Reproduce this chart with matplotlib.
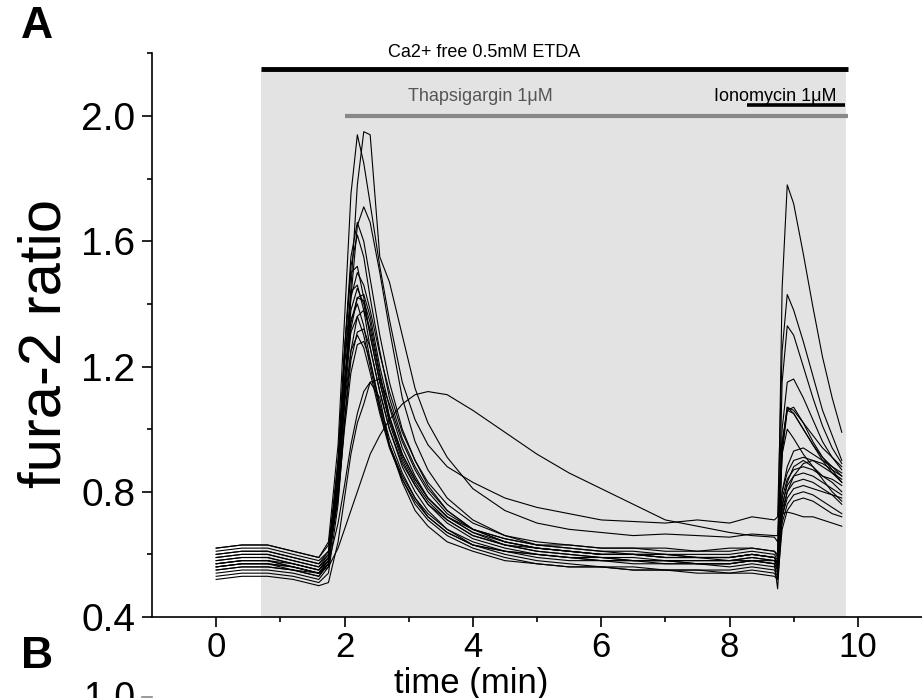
import matplotlib
matplotlib.use("Agg")
import matplotlib.pyplot as plt
from matplotlib.ticker import FixedLocator

plt.rcParams['font.family'] = ['Liberation Sans', 'DejaVu Sans']

# time axis (min)
time_min = [0, 0.4, 0.8, 1.2, 1.6, 1.75, 1.9, 2.0, 2.1, 2.2, 2.3, 2.4, 2.55, 2.7,
            2.9, 3.1, 3.3, 3.6, 4.0, 4.5, 5.0, 5.5, 6.0, 6.5, 7.0, 7.5, 8.0, 8.35,
            8.7, 8.75, 8.82, 8.9, 9.0, 9.15, 9.3, 9.45, 9.6, 9.75]

# fura-2 ratio, one list per cell
cell_a = [0.61, 0.62, 0.62, 0.60, 0.58, 0.61, 0.80, 1.10, 1.45, 1.78, 1.95, 1.94, 1.55, 1.47,
          1.30, 1.13, 1.02, 0.91, 0.81, 0.74, 0.70, 0.68, 0.67, 0.66, 0.665, 0.66, 0.655, 0.665,
          0.66, 0.66, 0.95, 1.07, 1.06, 1.02, 0.98, 0.94, 0.91, 0.88]
cell_b = [0.62, 0.63, 0.63, 0.61, 0.59, 0.64, 0.95, 1.35, 1.75, 1.94, 1.85, 1.72, 1.52, 1.35,
          1.15, 1.03, 0.95, 0.88, 0.83, 0.78, 0.75, 0.73, 0.71, 0.705, 0.70, 0.71, 0.70, 0.72,
          0.71, 0.72, 1.25, 1.43, 1.38, 1.28, 1.17, 1.06, 0.98, 0.90]
cell_c = [0.57, 0.58, 0.58, 0.57, 0.55, 0.59, 0.80, 1.10, 1.42, 1.65, 1.71, 1.66, 1.50, 1.32,
          1.10, 0.96, 0.87, 0.78, 0.71, 0.66, 0.63, 0.62, 0.61, 0.60, 0.60, 0.59, 0.59, 0.60,
          0.59, 0.57, 1.45, 1.78, 1.72, 1.56, 1.39, 1.23, 1.10, 0.99]
cell_d = [0.56, 0.57, 0.57, 0.56, 0.54, 0.58, 0.88, 1.25, 1.55, 1.66, 1.60, 1.48, 1.30, 1.15,
          1.00, 0.90, 0.82, 0.74, 0.68, 0.64, 0.62, 0.61, 0.60, 0.60, 0.59, 0.59, 0.58, 0.59,
          0.58, 0.56, 1.15, 1.33, 1.30, 1.20, 1.10, 1.01, 0.94, 0.89]
cell_e = [0.59, 0.60, 0.60, 0.58, 0.56, 0.60, 0.90, 1.25, 1.52, 1.62, 1.55, 1.42, 1.25, 1.10,
          0.97, 0.88, 0.81, 0.74, 0.68, 0.65, 0.63, 0.62, 0.61, 0.61, 0.60, 0.60, 0.60, 0.61,
          0.60, 0.58, 1.00, 1.15, 1.16, 1.10, 1.03, 0.96, 0.91, 0.87]
cell_f = [0.55, 0.56, 0.56, 0.55, 0.53, 0.57, 0.88, 1.25, 1.50, 1.52, 1.42, 1.30, 1.15, 1.02,
          0.90, 0.82, 0.76, 0.70, 0.65, 0.62, 0.60, 0.59, 0.58, 0.58, 0.57, 0.57, 0.57, 0.58,
          0.57, 0.55, 0.95, 1.07, 1.05, 1.00, 0.95, 0.91, 0.88, 0.85]
cell_g = [0.60, 0.61, 0.61, 0.59, 0.57, 0.61, 0.90, 1.22, 1.44, 1.46, 1.38, 1.26, 1.12, 1.00,
          0.89, 0.82, 0.76, 0.71, 0.66, 0.63, 0.62, 0.61, 0.60, 0.60, 0.60, 0.59, 0.59, 0.60,
          0.59, 0.57, 0.92, 1.06, 1.07, 1.02, 0.96, 0.91, 0.87, 0.83]
cell_h = [0.58, 0.59, 0.59, 0.57, 0.55, 0.59, 0.85, 1.15, 1.38, 1.45, 1.40, 1.30, 1.15, 1.03,
          0.91, 0.83, 0.77, 0.71, 0.66, 0.63, 0.61, 0.60, 0.59, 0.59, 0.58, 0.58, 0.58, 0.59,
          0.58, 0.56, 0.92, 1.00, 0.97, 0.92, 0.88, 0.84, 0.80, 0.77]
cell_i = [0.56, 0.57, 0.57, 0.56, 0.54, 0.57, 0.80, 1.08, 1.32, 1.42, 1.43, 1.36, 1.20, 1.07,
          0.94, 0.85, 0.78, 0.72, 0.67, 0.63, 0.61, 0.60, 0.59, 0.58, 0.58, 0.57, 0.57, 0.58,
          0.57, 0.55, 0.80, 0.88, 0.93, 0.94, 0.92, 0.90, 0.88, 0.86]
cell_j = [0.62, 0.63, 0.63, 0.61, 0.59, 0.63, 0.85, 1.12, 1.34, 1.42, 1.41, 1.34, 1.18, 1.04,
          0.92, 0.84, 0.78, 0.72, 0.68, 0.65, 0.63, 0.63, 0.62, 0.62, 0.62, 0.61, 0.62, 0.62,
          0.61, 0.60, 0.80, 0.86, 0.90, 0.91, 0.90, 0.88, 0.86, 0.84]
cell_k = [0.54, 0.55, 0.55, 0.54, 0.52, 0.56, 0.82, 1.15, 1.35, 1.40, 1.33, 1.22, 1.07, 0.95,
          0.84, 0.76, 0.71, 0.66, 0.62, 0.59, 0.57, 0.56, 0.56, 0.55, 0.55, 0.55, 0.54, 0.55,
          0.54, 0.52, 0.75, 0.83, 0.88, 0.90, 0.88, 0.85, 0.83, 0.80]
cell_l = [0.58, 0.59, 0.59, 0.57, 0.55, 0.58, 0.78, 1.03, 1.25, 1.36, 1.38, 1.32, 1.17, 1.04,
          0.92, 0.84, 0.78, 0.72, 0.67, 0.64, 0.62, 0.61, 0.60, 0.60, 0.59, 0.59, 0.59, 0.60,
          0.59, 0.57, 0.78, 0.84, 0.87, 0.88, 0.87, 0.85, 0.84, 0.82]
cell_m = [0.57, 0.58, 0.58, 0.56, 0.54, 0.58, 0.84, 1.15, 1.31, 1.36, 1.30, 1.20, 1.06, 0.95,
          0.85, 0.78, 0.72, 0.67, 0.63, 0.61, 0.59, 0.58, 0.58, 0.57, 0.57, 0.57, 0.56, 0.57,
          0.56, 0.54, 0.76, 0.82, 0.85, 0.86, 0.85, 0.83, 0.81, 0.79]
cell_n = [0.53, 0.54, 0.54, 0.53, 0.51, 0.54, 0.76, 1.02, 1.22, 1.31, 1.32, 1.26, 1.12, 1.00,
          0.88, 0.80, 0.74, 0.68, 0.63, 0.60, 0.58, 0.57, 0.56, 0.56, 0.55, 0.55, 0.55, 0.56,
          0.55, 0.53, 0.74, 0.80, 0.83, 0.84, 0.83, 0.81, 0.79, 0.76]
cell_o = [0.59, 0.60, 0.60, 0.58, 0.56, 0.59, 0.78, 1.00, 1.18, 1.27, 1.28, 1.22, 1.08, 0.97,
          0.86, 0.78, 0.73, 0.68, 0.64, 0.61, 0.60, 0.59, 0.58, 0.58, 0.58, 0.57, 0.57, 0.58,
          0.57, 0.49, 0.72, 0.78, 0.81, 0.82, 0.81, 0.80, 0.79, 0.78]
cell_p = [0.57, 0.58, 0.58, 0.56, 0.54, 0.57, 0.70, 0.82, 0.95, 1.05, 1.12, 1.15, 1.16, 1.08,
          0.96, 0.87, 0.80, 0.73, 0.68, 0.64, 0.62, 0.61, 0.60, 0.60, 0.59, 0.59, 0.59, 0.60,
          0.59, 0.57, 0.70, 0.76, 0.79, 0.80, 0.79, 0.77, 0.75, 0.73]
cell_q = [0.52, 0.53, 0.53, 0.52, 0.50, 0.51, 0.64, 0.78, 0.92, 1.02, 1.08, 1.15, 1.10, 0.95,
          0.83, 0.74, 0.69, 0.64, 0.61, 0.58, 0.57, 0.56, 0.56, 0.55, 0.55, 0.54, 0.54, 0.54,
          0.53, 0.52, 0.68, 0.74, 0.77, 0.78, 0.77, 0.75, 0.73, 0.72]
cell_r = [0.55, 0.56, 0.56, 0.55, 0.54, 0.56, 0.62, 0.68, 0.74, 0.80, 0.86, 0.92, 0.98, 1.03,
          1.08, 1.11, 1.12, 1.11, 1.06, 0.99, 0.92, 0.86, 0.81, 0.76, 0.71, 0.69, 0.67, 0.66,
          0.655, 0.64, 0.73, 0.735, 0.73, 0.72, 0.72, 0.71, 0.70, 0.69]
cell_s = [0.60, 0.61, 0.61, 0.59, 0.57, 0.60, 0.82, 1.08, 1.25, 1.30, 1.26, 1.18, 1.05, 0.94,
          0.84, 0.77, 0.72, 0.67, 0.63, 0.61, 0.60, 0.59, 0.59, 0.58, 0.58, 0.58, 0.58, 0.58,
          0.58, 0.56, 0.72, 0.80, 0.85, 0.89, 0.90, 0.89, 0.87, 0.85]
cell_t = [0.56, 0.57, 0.57, 0.55, 0.53, 0.57, 0.86, 1.20, 1.42, 1.50, 1.46, 1.38, 1.24, 1.12,
          0.99, 0.90, 0.83, 0.76, 0.70, 0.66, 0.64, 0.63, 0.62, 0.62, 0.61, 0.61, 0.61, 0.62,
          0.61, 0.59, 0.95, 1.06, 1.05, 1.00, 0.95, 0.90, 0.86, 0.83]

cells = [cell_a, cell_b, cell_c, cell_d, cell_e, cell_f, cell_g, cell_h, cell_i, cell_j,
         cell_k, cell_l, cell_m, cell_n, cell_o, cell_p, cell_q, cell_r, cell_s, cell_t]

y_ticks = [0.4, 0.8, 1.2, 1.6, 2.0]
x_ticks = [0, 2, 4, 6, 8, 10]

fig = plt.figure(figsize=(9.22, 6.98), dpi=100)
ax = fig.add_axes([152 / 922, 1 - 617 / 698, 1 - 152 / 922, (617 - 53.4) / 698])
ax.set_xlim(-1, 11)
ax.set_ylim(0.4, 2.2)

# shaded Ca2+-free period
ax.axvspan(0.7, 9.82, ymin=0, ymax=(2.15 - 0.4) / 1.8, color='#e3e3e3', lw=0, zorder=0)

for c in cells:
    ax.plot(time_min, c, color='black', lw=0.8, zorder=2)

# treatment bars
ax.plot([0.7, 9.84], [2.15, 2.15], color='black', lw=3.5, solid_capstyle='butt', clip_on=False, zorder=3)
ax.plot([2.0, 9.84], [2.0, 2.0], color='#888888', lw=3.0, solid_capstyle='butt', zorder=3)
ax.plot([8.28, 9.8], [2.036, 2.036], color='black', lw=2.6, solid_capstyle='butt', zorder=3)
ax.text(4.17, 2.203, 'Ca2+ free 0.5mM ETDA', ha='center', va='center', fontsize=13, clip_on=False)
ax.text(4.12, 2.062, 'Thapsigargin 1\u03bcM', ha='center', va='center', fontsize=13, color='#555555')
ax.text(8.72, 2.062, 'Ionomycin 1\u03bcM', ha='center', va='center', fontsize=13, color='black')

for side in ['top', 'right']:
    ax.spines[side].set_visible(False)
for side in ['left', 'bottom']:
    ax.spines[side].set_linewidth(1.2)

ax.yaxis.set_major_locator(FixedLocator(y_ticks))
ax.yaxis.set_minor_locator(FixedLocator([0.6, 1.0, 1.4, 1.8, 2.2]))
ax.xaxis.set_major_locator(FixedLocator(x_ticks))
ax.xaxis.set_minor_locator(FixedLocator([1, 3, 5, 7, 9]))
ax.set_yticklabels([f'{v:.1f}' for v in y_ticks])
ax.set_xticklabels([str(v) for v in x_ticks])
ax.tick_params(axis='y', which='major', direction='out', length=7, width=1.2, labelsize=28, pad=5)
ax.tick_params(axis='x', which='major', direction='out', length=7, width=1.2, labelsize=25, pad=3)
ax.tick_params(axis='both', which='minor', direction='out', length=3.5, width=1.2)

fig.text(471 / 922, 1 - 684 / 698, 'time (min)', ha='center', va='center', fontsize=25)
fig.text(45 / 922, 1 - 344 / 698, 'fura-2 ratio', ha='center', va='center', rotation=90, fontsize=43)
fig.text(37 / 922, 1 - 26 / 698, 'A', ha='center', va='center', fontsize=32, fontweight='bold')
fig.text(37 / 922, 1 - 656 / 698, 'B', ha='center', va='center', fontsize=32, fontweight='bold')
# top of panel B (cut off by the figure edge)
fig.text(135 / 922, 1 - 699 / 698, '1.0', ha='right', va='center', fontsize=27)
fig.add_artist(plt.Line2D([142 / 922, 152 / 922], [1 - 697 / 698, 1 - 697 / 698], color='#888888', lw=1.2))

fig.savefig('out.png', dpi=100)
